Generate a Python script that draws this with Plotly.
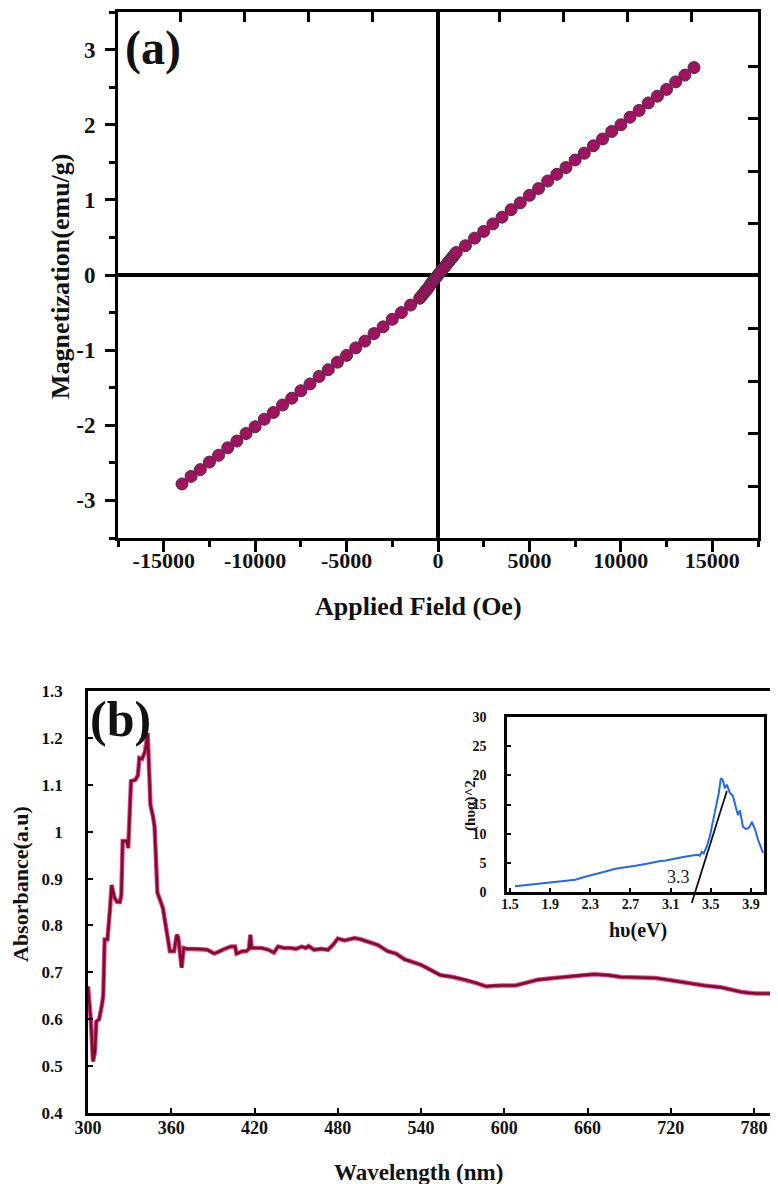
import plotly.graph_objects as go

# ---------------- data: panel (a) ----------------
field_oe = [-14000, -13500, -13000, -12500, -12000, -11500, -11000, -10500, -10000,
            -9500, -9000, -8500, -8000, -7500, -7000, -6500, -6000, -5500, -5000,
            -4500, -4000, -3500, -3000, -2500, -2000, -1500, -1000,
            -900, -800, -700, -600, -500, -400, -300, -200, -100, 0,
            100, 200, 300, 400, 500, 600, 700, 800, 900,
            1000, 1500, 2000, 2500, 3000, 3500, 4000, 4500, 5000, 5500, 6000,
            6500, 7000, 7500, 8000, 8500, 9000, 9500, 10000, 10500, 11000,
            11500, 12000, 12500, 13000, 13500, 14000]
magnetization = [-2.78, -2.68, -2.59, -2.49, -2.40, -2.30, -2.21, -2.11, -2.02,
                 -1.92, -1.83, -1.73, -1.64, -1.54, -1.45, -1.35, -1.26, -1.16, -1.07,
                 -0.97, -0.88, -0.78, -0.69, -0.59, -0.50, -0.40, -0.31,
                 -0.28, -0.25, -0.22, -0.19, -0.16, -0.12, -0.09, -0.06, -0.03, 0.0,
                 0.03, 0.06, 0.09, 0.12, 0.15, 0.18, 0.21, 0.24, 0.27,
                 0.30, 0.39, 0.49, 0.58, 0.68, 0.77, 0.87, 0.96, 1.06, 1.15, 1.25,
                 1.34, 1.43, 1.53, 1.62, 1.72, 1.81, 1.91, 2.00, 2.10, 2.19,
                 2.29, 2.38, 2.47, 2.57, 2.66, 2.76]
a_xticks = [-15000, -10000, -5000, 0, 5000, 10000, 15000]
a_xticktext = ["-15000", "-10000", "-5000", "0", "5000", "10000", "15000"]
a_yticks = [-3, -2, -1, 0, 1, 2, 3]
a_yticktext = ["-3", "-2", "-1", "0", "1", "2", "3"]

# ---------------- data: panel (b) ----------------
wavelength = [300, 302, 303.6, 305, 306, 308, 310, 311, 312, 314, 316, 317, 319, 321, 323,
              324, 325, 328, 329, 331, 334, 336, 337, 339, 341, 342, 343, 344.5, 345, 347,
              348, 350, 352, 354, 356, 358, 359, 362, 364, 365, 366, 367.5, 369, 371, 375,
              380, 386, 391, 395, 398, 403, 406, 407, 409, 411, 414, 416, 417, 418, 420,
              425, 430, 434, 437, 441, 446, 450, 454, 457, 459, 463, 468, 473, 477, 480,
              485, 489, 492, 497, 502, 509, 516, 522, 528, 534, 540, 547, 554, 563, 572,
              580, 587, 593, 598, 603, 608, 616, 624, 636, 648, 657, 665, 675, 684, 697,
              709, 720, 732, 744, 756, 764, 771, 781, 790, 798]
absorbance = [0.67, 0.60, 0.51, 0.53, 0.595, 0.60, 0.63, 0.65, 0.77, 0.77, 0.84, 0.886, 0.86, 0.85, 0.85,
              0.865, 0.98, 0.98, 0.965, 1.108, 1.11, 1.12, 1.157, 1.155, 1.17, 1.185, 1.21, 1.10, 1.057, 1.03,
              1.01, 0.87, 0.855, 0.837, 0.80, 0.76, 0.745, 0.745, 0.78, 0.775, 0.75, 0.71, 0.752, 0.75, 0.75,
              0.75, 0.748, 0.74, 0.745, 0.75, 0.755, 0.755, 0.74, 0.742, 0.745, 0.745, 0.75, 0.78, 0.752, 0.752,
              0.752, 0.748, 0.742, 0.755, 0.752, 0.752, 0.75, 0.755, 0.752, 0.756, 0.748, 0.75, 0.748, 0.76, 0.772,
              0.768, 0.77, 0.773, 0.77, 0.765, 0.758, 0.745, 0.74, 0.728, 0.722, 0.716, 0.705, 0.694, 0.69, 0.684,
              0.677, 0.67, 0.672, 0.672, 0.672, 0.672, 0.678, 0.684, 0.688, 0.692, 0.694, 0.696, 0.694, 0.69, 0.689,
              0.688, 0.683, 0.677, 0.672, 0.668, 0.663, 0.658, 0.655, 0.655, 0.655]
b_xticks = [300, 360, 420, 480, 540, 600, 660, 720, 780]
b_xticktext = ["300", "360", "420", "480", "540", "600", "660", "720", "780"]
b_yticks = [0.4, 0.5, 0.6, 0.7, 0.8, 0.9, 1.0, 1.1, 1.2, 1.3]
b_yticktext = ["0.4", "0.5", "0.6", "0.7", "0.8", "0.9", "1", "1.1", "1.2", "1.3"]

# ---------------- data: inset (Tauc plot) ----------------
photon_ev = [1.55, 1.65, 1.75, 1.85, 1.95, 2.05, 2.15, 2.25, 2.35, 2.45, 2.55, 2.65, 2.75, 2.85,
             2.95, 3.0, 3.05, 3.1, 3.2, 3.3, 3.37, 3.39, 3.41, 3.43, 3.46, 3.49, 3.52, 3.55, 3.58,
             3.60, 3.62, 3.64, 3.66, 3.69, 3.72, 3.75, 3.77, 3.79, 3.82, 3.85, 3.88, 3.91, 3.94,
             3.97, 4.02]
tauc = [1.0, 1.2, 1.4, 1.6, 1.8, 1.9, 2.1, 2.6, 3.0, 3.5, 4.0, 4.2, 4.5, 4.8,
        5.2, 5.3, 5.4, 5.6, 5.9, 6.2, 6.4, 6.2, 6.9, 6.6, 7.8, 9.5, 12.0, 14.5, 17.0,
        19.5, 19.2, 17.8, 18.4, 17.0, 16.5, 14.5, 13.2, 14.0, 11.2, 10.8, 11.0, 12.0, 10.8,
        9.0, 6.7]
tangent_ev = [3.31, 3.66]
tangent_val = [-1.9, 17.3]
inset_xticks = [1.5, 1.9, 2.3, 2.7, 3.1, 3.5, 3.9]
inset_xticktext = ["1.5", "1.9", "2.3", "2.7", "3.1", "3.5", "3.9"]
inset_yticks = [0, 5, 10, 15, 20, 25, 30]
inset_yticktext = ["0", "5", "10", "15", "20", "25", "30"]
band_gap_label = "3.3"

W, H = 778, 1184
SERIF = "Liberation Serif"
INK = "#111111"


def px_x(p):
    return p / W


def px_y(p):
    return 1 - p / H


def bold_labels(labels):
    return ["<b>" + s + "</b>" for s in labels]


fig = go.Figure()

# panel (a)
fig.add_trace(go.Scatter(
    x=field_oe, y=magnetization, mode="markers", xaxis="x", yaxis="y",
    marker=dict(size=12, color="#a3125e", line=dict(color="#4a2c48", width=1)),
    showlegend=False))
# dummy trace to register mirrored tick axes of panel (a)
fig.add_trace(go.Scatter(x=[None], y=[None], xaxis="x2", yaxis="y2", showlegend=False))

# panel (b)
fig.add_trace(go.Scatter(
    x=wavelength, y=absorbance, mode="lines", xaxis="x3", yaxis="y3",
    line=dict(color="#d64aa0", width=4.5), showlegend=False, hoverinfo="skip"))
fig.add_trace(go.Scatter(
    x=wavelength, y=absorbance, mode="lines", xaxis="x3", yaxis="y3",
    line=dict(color="#850b25", width=2.6), showlegend=False))

# inset
fig.add_trace(go.Scatter(
    x=photon_ev, y=tauc, mode="lines", xaxis="x4", yaxis="y4",
    line=dict(color="#2467f0", width=2), showlegend=False))
fig.add_trace(go.Scatter(
    x=tangent_ev, y=tangent_val, mode="lines", xaxis="x5", yaxis="y5",
    line=dict(color="#111111", width=1.8), showlegend=False))

dom_a_x = [px_x(110), px_x(750)]
dom_a_y = [px_y(530), px_y(4)]
dom_b_x = [px_x(80), px_x(771)]
dom_b_y = [px_y(1105), px_y(683)]
dom_i_x = [px_x(499), px_x(756)]
dom_i_y = [px_y(884), px_y(709)]
dom_t_y = [px_y(899), px_y(709)]

fig.update_layout(
    width=W, height=H,
    margin=dict(l=0, r=0, t=0, b=0),
    paper_bgcolor="white", plot_bgcolor="rgba(0,0,0,0)",
    font=dict(family=SERIF, color=INK),
    xaxis=dict(domain=dom_a_x, range=[-17500, 17500], tickvals=a_xticks,
               ticktext=bold_labels(a_xticktext),
               ticks="outside", ticklen=11, tickwidth=3, tickcolor="black",
               minor=dict(ticks="outside", ticklen=6, tickwidth=3, tickcolor="black", dtick=2500),
               showline=True, linewidth=3, linecolor="black", mirror=True,
               showgrid=False, zeroline=True, zerolinewidth=3.5, zerolinecolor="black",
               tickfont=dict(family=SERIF, size=22, color=INK),
               ticklabelstandoff=-10, anchor="y", automargin=False, fixedrange=True),
    yaxis=dict(domain=dom_a_y, range=[-3.5, 3.5], tickvals=a_yticks,
               ticktext=bold_labels(a_yticktext),
               ticks="outside", ticklen=10, tickwidth=3, tickcolor="black",
               minor=dict(ticks="outside", ticklen=6, tickwidth=3, tickcolor="black", dtick=0.5),
               showline=True, linewidth=3, linecolor="black", mirror=True,
               showgrid=False, zeroline=True, zerolinewidth=3.5, zerolinecolor="black",
               tickfont=dict(family=SERIF, size=23, color=INK),
               ticklabelstandoff=5, anchor="x", automargin=False, fixedrange=True),
    # mirrored tick marks of panel (a) (top and right, independent spacing)
    xaxis2=dict(domain=dom_a_x, overlaying="x", side="top", anchor="y2",
                range=[-0.988, 9.05], tickvals=[0, 1, 2, 3, 5, 6, 7, 8],
                ticks="inside", ticklen=10, tickwidth=3, tickcolor="black",
                showticklabels=False, showline=False, showgrid=False, zeroline=False,
                automargin=False, fixedrange=True),
    yaxis2=dict(domain=dom_a_y, overlaying="y", side="right", anchor="x2",
                range=[8.99, -1.03], tickvals=[0, 1, 2, 3, 5, 6, 7, 8],
                ticks="inside", ticklen=10, tickwidth=3, tickcolor="black",
                showticklabels=False, showline=False, showgrid=False, zeroline=False,
                automargin=False, fixedrange=True),
    # panel (b)
    xaxis3=dict(domain=dom_b_x, range=[300, 798], tickvals=b_xticks,
                ticktext=bold_labels(b_xticktext),
                ticks="inside", ticklen=5, tickwidth=2, tickcolor="black",
                showline=True, linewidth=2.5, linecolor="black", mirror=True,
                showgrid=False, zeroline=False,
                tickfont=dict(family=SERIF, size=18, color=INK),
                ticklabelstandoff=-3, anchor="y3", automargin=False, fixedrange=True),
    yaxis3=dict(domain=dom_b_y, range=[0.4, 1.3], tickvals=b_yticks,
                ticktext=bold_labels(b_yticktext),
                ticks="inside", ticklen=5, tickwidth=2, tickcolor="black",
                showline=True, linewidth=2.5, linecolor="black", mirror=True,
                showgrid=False, zeroline=False,
                tickfont=dict(family=SERIF, size=17, color=INK),
                ticklabelstandoff=19, anchor="x3", automargin=False, fixedrange=True),
    # inset
    xaxis4=dict(domain=dom_i_x, range=[1.47, 4.03], tickvals=inset_xticks,
                ticktext=bold_labels(inset_xticktext),
                ticks="inside", ticklen=4, tickwidth=2, tickcolor="black",
                showline=True, linewidth=2.5, linecolor="black", mirror=True,
                showgrid=False, zeroline=False,
                tickfont=dict(family=SERIF, size=14, color=INK),
                ticklabelstandoff=-3, anchor="y4", automargin=False, fixedrange=True),
    yaxis4=dict(domain=dom_i_y, range=[0, 30], tickvals=inset_yticks,
                ticktext=bold_labels(inset_yticktext),
                ticks="inside", ticklen=4, tickwidth=2, tickcolor="black",
                showline=True, linewidth=2.5, linecolor="black", mirror=True,
                showgrid=False, zeroline=False,
                tickfont=dict(family=SERIF, size=14, color=INK),
                ticklabelstandoff=15, anchor="x4", automargin=False, fixedrange=True),
    # helper axes for the tangent line (same scale as inset, extends below it)
    xaxis5=dict(domain=dom_i_x, range=[1.47, 4.03], visible=False, anchor="y5",
                fixedrange=True),
    yaxis5=dict(domain=dom_t_y, range=[-15 / (175 / 30), 30], visible=False, anchor="x5",
                fixedrange=True),
)

ann = []
bold = dict(family=SERIF, color=INK, weight="bold")
ann.append(dict(text="<b>Applied Field (Oe)</b>", x=px_x(411), y=px_y(598), xref="paper", yref="paper",
                showarrow=False, font=dict(**bold, size=26), xanchor="center", yanchor="middle"))
ann.append(dict(text="<b>Magnetization(emu/g)</b>", x=px_x(53), y=px_y(268), xref="paper", yref="paper",
                showarrow=False, textangle=-90, font=dict(**bold, size=26),
                xanchor="center", yanchor="middle"))
ann.append(dict(text="<b>(a)</b>", x=px_x(145), y=px_y(40), xref="paper", yref="paper",
                showarrow=False, font=dict(**bold, size=48), xanchor="center", yanchor="middle"))
ann.append(dict(text="<b>Wavelength (nm)</b>", x=px_x(410), y=px_y(1164), xref="paper", yref="paper",
                showarrow=False, font=dict(**bold, size=23), xanchor="center", yanchor="middle"))
ann.append(dict(text="<b>Absorbance(a.u)</b>", x=px_x(12), y=px_y(876), xref="paper", yref="paper",
                showarrow=False, textangle=-90, font=dict(**bold, size=22),
                xanchor="center", yanchor="middle"))
ann.append(dict(text="<b>(b)</b>", x=px_x(112), y=px_y(711), xref="paper", yref="paper",
                showarrow=False, font=dict(**bold, size=50), xanchor="center", yanchor="middle"))
ann.append(dict(text="<b>hυ(eV)</b>", x=px_x(630), y=px_y(922), xref="paper", yref="paper",
                showarrow=False, font=dict(**bold, size=20), xanchor="center", yanchor="middle"))
ann.append(dict(text="<b>(hυα)^2</b>", x=px_x(462), y=px_y(798), xref="paper", yref="paper",
                showarrow=False, textangle=-90, font=dict(**bold, size=15),
                xanchor="center", yanchor="middle"))
ann.append(dict(text=band_gap_label, x=px_x(670), y=px_y(869), xref="paper", yref="paper",
                showarrow=False, font=dict(family=SERIF, color="#222222", size=18),
                xanchor="center", yanchor="middle"))
fig.update_layout(annotations=ann)

fig.write_html("out.html")
